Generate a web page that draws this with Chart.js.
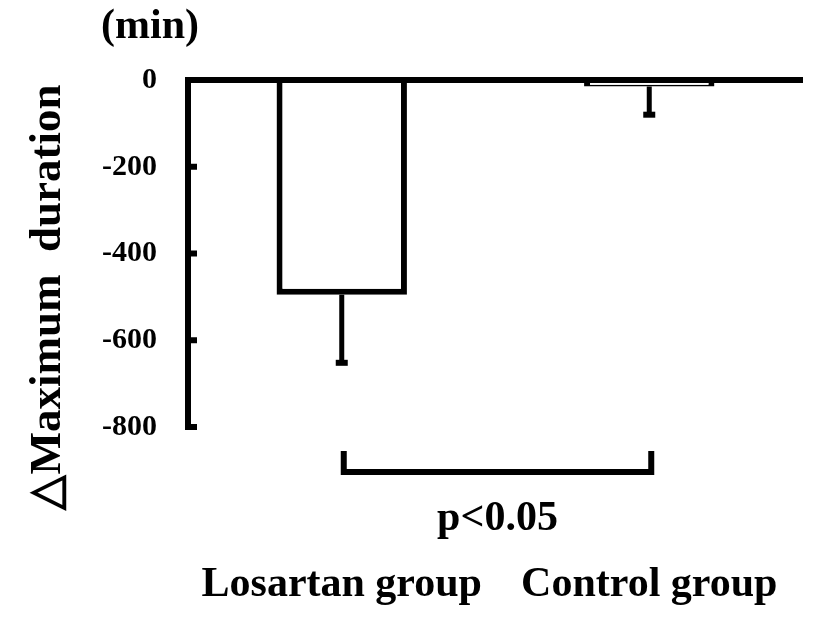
<!DOCTYPE html>
<html>
<head>
<meta charset="utf-8">
<script src="https://cdn.jsdelivr.net/npm/chart.js@4.4.0/dist/chart.umd.min.js"></script>
<style>
  html, body { margin: 0; padding: 0; background: #fff; }
  .duration-graph { width: 814px; height: 617px; }
</style>
</head>
<body>
<div class="duration-graph"></div>
<script>
// values
const groups = ['Losartan group', 'Control group'];
const meanChange = [-495, -15];
const errorSize = [157, 65];
const yTicks = [0, -200, -400, -600, -800];
const yTitle = '\u25B3Maximum  duration';
const yUnit = '(min)';
const pLabel = 'p<0.05';

const serif = '"Liberation Serif", "Times New Roman", serif';

// error bars, inner tick marks, significance bracket and loose texts
const extrasPlugin = {
    id: 'extras',
    afterDatasetsDraw(chart) {
        const ctx = chart.ctx;
        const yScale = chart.scales.y;
        const area = chart.chartArea;
        const bars = chart.getDatasetMeta(0).data;

        ctx.save();
        ctx.fillStyle = '#000';
        ctx.strokeStyle = '#000';

        // error bars (downward only)
        bars.forEach((bar, i) => {
            let yEnd = yScale.getPixelForValue(meanChange[i] - errorSize[i]);
            ctx.lineWidth = 5;
            ctx.beginPath();
            ctx.moveTo(bar.x, bar.y);
            ctx.lineTo(bar.x, yEnd);
            ctx.stroke();
            ctx.fillRect(bar.x - 6, yEnd - 3, 12, 6);
        });

        // tick marks pointing into the plot
        ctx.lineWidth = 6;
        yTicks.forEach(v => {
            if (v === 0) return;
            let y = yScale.getPixelForValue(v);
            ctx.beginPath();
            ctx.moveTo(area.left, y);
            ctx.lineTo(area.left + 9, y);
            ctx.stroke();
        });

        // bracket between the two groups
        let x1 = bars[0].x + 2;
        let x2 = bars[1].x + 2;
        let top = area.bottom + 24;
        let low = area.bottom + 45;
        ctx.lineWidth = 6;
        ctx.lineJoin = 'miter';
        ctx.beginPath();
        ctx.moveTo(x1, top);
        ctx.lineTo(x1, low);
        ctx.lineTo(x2, low);
        ctx.lineTo(x2, top);
        ctx.stroke();

        // texts
        ctx.textBaseline = 'alphabetic';
        ctx.textAlign = 'center';
        ctx.font = 'bold 42px ' + serif;
        ctx.fillText(pLabel, (x1 + x2) / 2, 530);

        ctx.font = 'bold 42px ' + serif;
        ctx.fillText(yUnit, 150, 38);

        ctx.translate(60, 297);
        ctx.rotate(-Math.PI / 2);
        ctx.font = 'bold 45px ' + serif;
        ctx.fillText(yTitle, 0, 0);
        ctx.restore();
    }
};

function durationGraph() {
    let graphContainer = document.querySelector('.duration-graph');
    graphContainer.innerHTML = "";

    let newCanvas = document.createElement('canvas');
    newCanvas.className = "duration-chart";
    graphContainer.appendChild(newCanvas);

    let durationChart = new Chart(newCanvas, {
        type: 'bar',
        data: {
            labels: groups,
            datasets: [{
                data: meanChange,
                backgroundColor: '#fff',
                borderColor: '#000',
                borderWidth: 6,
                borderSkipped: 'start',
                barPercentage: 0.424,
                categoryPercentage: 1
            }]
        },
        options: {
            responsive: true,
            maintainAspectRatio: false,
            animation: false,
            layout: { padding: { top: 80, right: 11, left: 0, bottom: 0 } },
            plugins: {
                legend: { display: false },
                tooltip: { enabled: false }
            },
            scales: {
                x: {
                    position: 'bottom',
                    grid: { display: false, drawTicks: false },
                    border: { display: false },
                    ticks: {
                        color: '#000',
                        padding: 133,
                        maxRotation: 0,
                        autoSkip: false,
                        font: { family: serif, size: 42, weight: 'bold' }
                    },
                    afterFit: s => {
                        s.height = 190;
                        s.paddingLeft = 0;
                        s.paddingRight = 0;
                    }
                },
                y: {
                    min: -800,
                    max: 0,
                    afterBuildTicks: s => { s.ticks = yTicks.map(v => ({ value: v })); },
                    grid: {
                        drawTicks: false,
                        lineWidth: 6,
                        color: c => (c.tick && c.tick.value === 0) ? '#000' : 'rgba(0,0,0,0)'
                    },
                    border: { display: true, color: '#000', width: 6 },
                    ticks: {
                        color: '#000',
                        padding: 31,
                        font: { family: serif, size: 30, weight: 'bold' }
                    },
                    afterFit: s => {
                        s.width = 188;
                        s.paddingTop = 0;
                        s.paddingBottom = 0;
                    }
                }
            }
        },
        plugins: [extrasPlugin]
    });
}

durationGraph();
</script>
</body>
</html>
